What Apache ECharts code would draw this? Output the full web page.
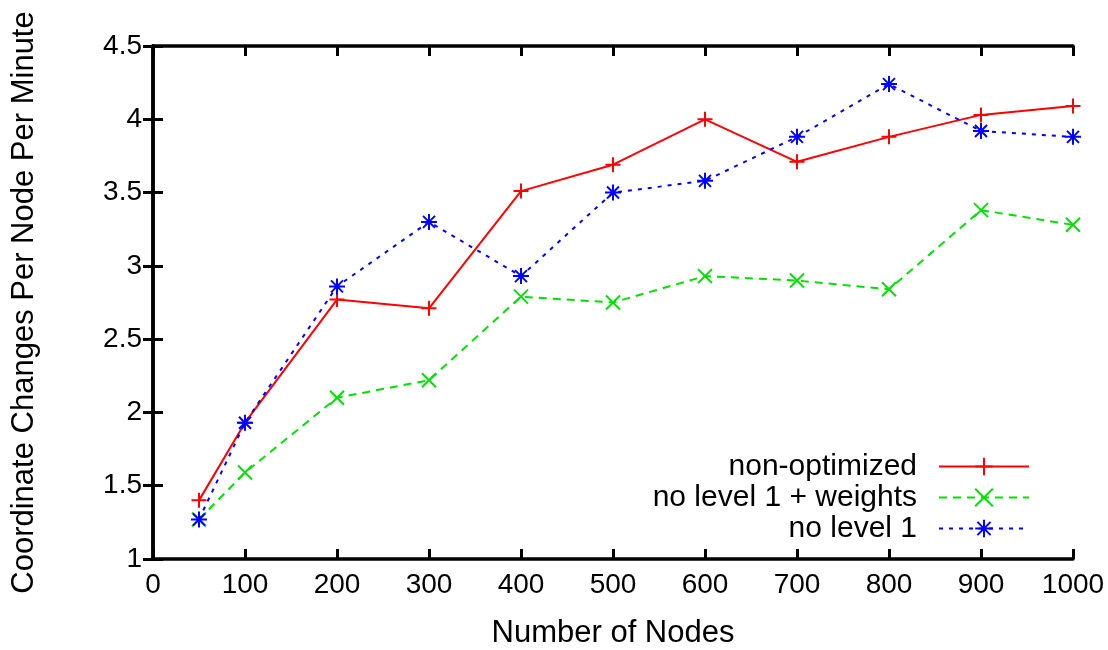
<!DOCTYPE html>
<html><head><meta charset="utf-8">
<script src="https://cdn.jsdelivr.net/npm/echarts@6/dist/echarts.min.js"></script>
<style>html,body{margin:0;padding:0;background:#fff}#c{width:1108px;height:650px}</style>
</head><body><div id="c"></div>
<script>
const nodes = [50, 100, 200, 300, 400, 500, 600, 700, 800, 900, 1000];
const nonOptimized = [1.40, 1.93, 2.77, 2.71, 3.51, 3.69, 4.00, 3.71, 3.88, 4.03, 4.09];
const noLevel1Weights = [1.27, 1.59, 2.10, 2.22, 2.79, 2.75, 2.93, 2.90, 2.84, 3.38, 3.28];
const noLevel1 = [1.27, 1.93, 2.86, 3.30, 2.93, 3.50, 3.58, 3.88, 4.24, 3.92, 3.88];
const seriesNames = ['non-optimized', 'no level 1 + weights', 'no level 1'];

const PLUS = 'path://M0,-1L0,1M-1,0L1,0';
const CROSS = 'path://M-1,-1L1,1M-1,1L1,-1';
const STAR = 'path://M0,-1L0,1M-1,0L1,0M-0.75,-0.75L0.75,0.75M-0.75,0.75L0.75,-0.75';
const FONT = 'Liberation Sans';

function mk(name, vals, color, sym, dash, size) {
  return {
    name: name, type: 'line', data: nodes.map((n, i) => [n, vals[i]]),
    symbol: sym, symbolSize: size,
    itemStyle: { color: 'none', borderColor: color, borderWidth: 2 },
    lineStyle: { color: color, width: 2, type: dash },
    emphasis: { disabled: true }, animation: false
  };
}
const axisCommon = {
  axisLine: { show: true, lineStyle: { color: '#000', width: 3.5 } },
  axisTick: { show: true, inside: true, length: 10, lineStyle: { color: '#000', width: 3 } },
  splitLine: { show: false }
};
const chart = echarts.init(document.getElementById('c'));
chart.setOption({
  backgroundColor: '#fff',
  textStyle: { fontFamily: FONT },
  grid: { left: 153, right: 35, top: 46, bottom: 91, containLabel: false, outerBoundsMode: 'none' },
  xAxis: [
    Object.assign({ type: 'value', min: 0, max: 1000, interval: 100, position: 'bottom',
      name: 'Number of Nodes', nameLocation: 'middle', nameGap: 59,
      nameTextStyle: { fontSize: 31, color: '#000', fontFamily: FONT },
      axisLabel: { fontSize: 28, color: '#000', margin: 12, fontFamily: FONT,
        formatter: v => String(v) } }, axisCommon),
    Object.assign({ type: 'value', min: 0, max: 1000, interval: 100, position: 'top',
      axisLabel: { show: false } }, axisCommon)
  ],
  yAxis: [
    Object.assign({ type: 'value', min: 1, max: 4.5, interval: 0.5, position: 'left',
      name: 'Coordinate Changes Per Node Per Minute', nameLocation: 'middle', nameGap: 113,
      nameTextStyle: { fontSize: 31, color: '#000', fontFamily: FONT },
      axisLabel: { fontSize: 28, color: '#000', margin: 11, fontFamily: FONT,
        formatter: v => String(v) } }, axisCommon),
    Object.assign({ type: 'value', min: 1, max: 4.5, interval: 0.5, position: 'right',
      axisLabel: { show: false } }, axisCommon)
  ],
  legend: {
    orient: 'vertical', right: 78, top: 451, align: 'right', padding: 0,
    itemWidth: 90, itemHeight: 22, itemGap: 0,
    textStyle: { fontSize: 30, lineHeight: 31, color: '#000', fontFamily: FONT, padding: [0, 17, 0, 0] },
    data: seriesNames
  },
  series: [
    mk(seriesNames[0], nonOptimized, '#ff0000', PLUS, 'solid', 15),
    mk(seriesNames[1], noLevel1Weights, '#00e000', CROSS, [8, 6], 14),
    mk(seriesNames[2], noLevel1, '#0000ff', STAR, [4, 6], 16)
  ]
});
</script></body></html>
